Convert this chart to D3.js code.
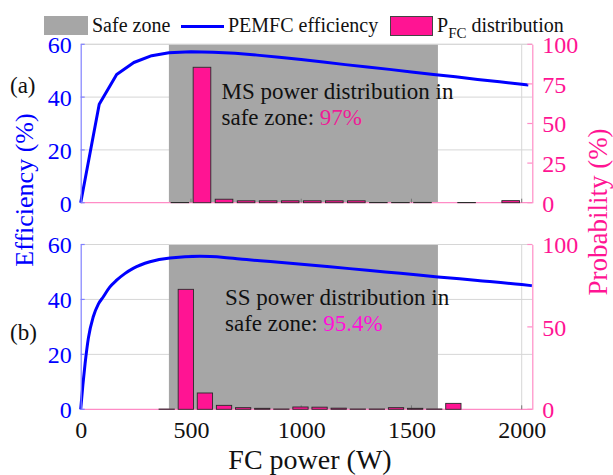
<!DOCTYPE html>
<html>
<head>
<meta charset="utf-8">
<script src="https://cdn.jsdelivr.net/npm/d3@7"></script>
<style>
  html, body { margin: 0; padding: 0; background: #fff; }
  svg text { font-family: "Liberation Serif", "Times New Roman", "DejaVu Serif", serif; }
</style>
</head>
<body>
<svg id="chart" width="613" height="475"></svg>
<script>
// ---- data -------------------------------------------------------------
// PEMFC efficiency curve (MS strategy, coarse samples) : power (W) -> efficiency (%)
const powerA = [0, 84, 163, 241, 322, 400, 500, 600, 700, 800, 900, 1000, 1100, 1200,
                1300, 1400, 1500, 1600, 1700, 1800, 1900, 2000, 2030];
const effA   = [0, 37.3, 48.6, 53.1, 55.7, 56.8, 57.2, 57.0, 56.6, 55.9, 55.1, 54.2, 53.3, 52.3,
                51.4, 50.5, 49.5, 48.6, 47.7, 46.7, 45.8, 44.9, 44.6];

// PEMFC efficiency curve (SS strategy, smooth)
const powerB = [0, 10, 20, 35, 57, 80, 102, 130, 163, 200, 238, 314, 405, 541, 650, 752,
                860, 963, 1130, 1300, 1450, 1620, 1800, 2000, 2046];
const effB   = [0, 9, 16.7, 26, 33.7, 38.3, 40.9, 44.3, 47.0, 49.4, 51.3, 53.7, 55.1, 55.7, 55.3, 54.5,
                53.8, 53.1, 51.9, 50.6, 49.5, 48.2, 46.9, 45.4, 45.0];

// FC power histograms: bin centres (W) and probability (%)
const binsA = [50, 150, 250, 350, 450, 550, 650, 750, 850, 950,
               1050, 1150, 1250, 1350, 1450, 1550, 1650, 1750, 1850, 1950];
const probA = [0, 0, 0, 0, 0.15, 85.5, 2.2, 1.2, 1.2, 1.2,
               1.2, 1.2, 1.2, 0.1, 0.1, 0.2, 0, 0.1, 0, 1.3];
const binWidthA = 100;

const binsB = [43.3, 130, 216.7, 303.3, 390, 476.7, 563.3, 650, 736.7, 823.3,
               910, 996.7, 1083.3, 1170, 1256.7, 1343.3, 1430, 1516.7, 1603.3, 1690];
const probB = [0, 0, 0, 0, 0.15, 72.8, 9.9, 2.4, 1.0, 0.6,
               0.2, 1.4, 1.3, 0.7, 0.2, 0.2, 1.0, 0.6, 0.2, 3.6];
const binWidthB = 86.7;

const safeZone = [400, 1620];
const xTicks = [0, 500, 1000, 1500, 2000];
const effTicks = [0, 20, 40, 60];
const probTicksA = [0, 25, 50, 75, 100];
const probTicksB = [0, 50, 100];
const shares = ["97%", "95.4%"];

// ---- styling ----------------------------------------------------------
const FONT = '"Liberation Serif", "Times New Roman", "DejaVu Serif", serif';
const BLUE = "#0000ff", PINK = "#ff1493", GRAY = "#a6a6a6", GRID = "#d6d6d6";
const svg = d3.select("#chart");

const x = d3.scaleLinear().domain([0, 2048]).range([80.7, 532.3]);
const x0 = x.range()[0], x1 = x.range()[1];

const panels = [
  { top: 44.3, bottom: 202.7, power: powerA, eff: effA, bins: binsA, prob: probA, bw: binWidthA,
    probTicks: probTicksA, curve: d3.curveLinear, tag: "(a)", tagY: 93,
    lines: ["MS power distribution in", "safe zone:"], textX: 221.5, textY: 98.5, share: shares[0], shareColor: "#ee1c96" },
  { top: 244.5, bottom: 409.3, power: powerB, eff: effB, bins: binsB, prob: probB, bw: binWidthB,
    probTicks: probTicksB, curve: d3.curveMonotoneX, tag: "(b)", tagY: 340,
    lines: ["SS power distribution in", "safe zone:"], textX: 225, textY: 305, share: shares[1], shareColor: "#ff10d8" }
];

panels.forEach(p => {
  const yE = d3.scaleLinear().domain([0, 60]).range([p.bottom, p.top]);
  const yP = d3.scaleLinear().domain([0, 100]).range([p.bottom, p.top]);
  const g = svg.append("g");

  // grid
  g.selectAll(".hg").data(effTicks.filter(d => d > 0)).join("line")
    .attr("x1", x0).attr("x2", x1).attr("y1", d => yE(d)).attr("y2", d => yE(d))
    .attr("stroke", GRID).attr("stroke-width", 1);
  g.selectAll(".vg").data(xTicks.filter(d => d > 0)).join("line")
    .attr("x1", d => x(d)).attr("x2", d => x(d)).attr("y1", p.top).attr("y2", p.bottom)
    .attr("stroke", GRID).attr("stroke-width", 1);

  // safe zone
  g.append("rect").attr("x", x(safeZone[0])).attr("y", p.top)
    .attr("width", x(safeZone[1]) - x(safeZone[0])).attr("height", p.bottom - p.top)
    .attr("fill", GRAY);

  // bottom baseline (probability axis colour)
  g.append("line").attr("x1", x0).attr("x2", x1).attr("y1", p.bottom).attr("y2", p.bottom)
    .attr("stroke", "#ff8cc6").attr("stroke-width", 1.2);

  // x tick marks
  g.selectAll(".xt").data(xTicks).join("line")
    .attr("x1", d => x(d)).attr("x2", d => x(d)).attr("y1", p.bottom).attr("y2", p.bottom - 4)
    .attr("stroke", "#777").attr("stroke-width", 1);

  // histogram bars
  const inZone = c => c >= safeZone[0] && c <= safeZone[1];
  g.selectAll(".bar").data(p.bins.map((c, i) => ({ c, v: p.prob[i] }))).join("rect")
    .attr("x", d => x(d.c - 0.4 * p.bw))
    .attr("width", d => x(d.c + 0.4 * p.bw) - x(d.c - 0.4 * p.bw))
    .attr("y", d => yP(d.v))
    .attr("height", d => yP(0) - yP(d.v))
    .attr("fill", "#ff1493")
    .attr("stroke", d => d.v > 0 ? "#2b2b2b" : (inZone(d.c) ? GRAY : "#f4f4f4"))
    .attr("stroke-width", d => d.v > 0 ? 0.9 : 1.4);

  // efficiency curve
  const line = d3.line().x(d => x(d[0])).y(d => yE(d[1])).curve(p.curve);
  g.append("path").datum(p.power.map((w, i) => [w, p.eff[i]]))
    .attr("d", line).attr("fill", "none").attr("stroke", BLUE).attr("stroke-width", 3)
    .attr("stroke-linejoin", "round");

  // frame
  g.append("line").attr("x1", x0).attr("x2", x1).attr("y1", p.top).attr("y2", p.top)
    .attr("stroke", GRID).attr("stroke-width", 1);

  // left (efficiency) axis
  const left = d3.axisLeft(yE).tickValues(effTicks).tickSize(0).tickPadding(9);
  const la = g.append("g").attr("transform", `translate(${x0},0)`).call(left).attr("font-family", FONT);
  la.select(".domain").attr("stroke", "#8080ff").attr("stroke-width", 1.2);
  la.selectAll("text").attr("fill", BLUE).attr("font-size", 24).attr("dy", "0.35em");
  g.selectAll(".lt").data(effTicks).join("line")
    .attr("x1", x0).attr("x2", x0 + 4).attr("y1", d => yE(d)).attr("y2", d => yE(d))
    .attr("stroke", "#8080ff").attr("stroke-width", 1.2);

  // right (probability) axis
  const right = d3.axisRight(yP).tickValues(p.probTicks).tickSize(0).tickPadding(10);
  const ra = g.append("g").attr("transform", `translate(${x1},0)`).call(right).attr("font-family", FONT);
  ra.select(".domain").attr("stroke", "#ff8cc6").attr("stroke-width", 1.2);
  ra.selectAll("text").attr("fill", PINK).attr("font-size", 24).attr("dy", "0.35em");
  g.selectAll(".rt").data(p.probTicks).join("line")
    .attr("x1", x1 - 5).attr("x2", x1).attr("y1", d => yP(d)).attr("y2", d => yP(d))
    .attr("stroke", "#ff8cc6").attr("stroke-width", 1.2);

  // panel tag
  svg.append("text").attr("x", 10).attr("y", p.tagY).attr("font-size", 23)
    .attr("font-family", FONT).attr("fill", "#111").text(p.tag);

  // annotation
  const t = svg.append("g").attr("font-size", 23).attr("font-family", FONT).attr("fill", "#111");
  t.append("text").attr("x", p.textX).attr("y", p.textY).text(p.lines[0]);
  const t2 = t.append("text").attr("x", p.textX).attr("y", p.textY + 26);
  t2.append("tspan").text(p.lines[1] + " ");
  t2.append("tspan").attr("fill", p.shareColor).text(p.share);
});

// x axis labels (under the lower panel)
const xa = svg.append("g").attr("transform", `translate(0,${panels[1].bottom})`)
  .call(d3.axisBottom(x).tickValues(xTicks).tickSize(0).tickPadding(12).tickFormat(d3.format("d")))
  .attr("font-family", FONT);
xa.select(".domain").remove();
xa.selectAll("text").attr("fill", "#111").attr("font-size", 24);

svg.append("text").attr("x", 310).attr("y", 469).attr("text-anchor", "middle")
  .attr("font-family", FONT).attr("font-size", 28).attr("fill", "#111").text("FC power (W)");

svg.append("text").attr("transform", "translate(33,190) rotate(-90)").attr("text-anchor", "middle")
  .attr("font-family", FONT).attr("font-size", 26).attr("fill", BLUE).text("Efficiency (%)");
svg.append("text").attr("transform", "translate(607,212) rotate(-90)").attr("text-anchor", "middle")
  .attr("font-family", FONT).attr("font-size", 27).attr("fill", PINK).text("Probability (%)");

// legend
const lg = svg.append("g").attr("font-size", 20).attr("font-family", FONT).attr("fill", "#111");
lg.append("rect").attr("x", 44).attr("y", 16).attr("width", 44).attr("height", 19).attr("fill", GRAY);
lg.append("text").attr("x", 92).attr("y", 32).text("Safe zone");
lg.append("line").attr("x1", 181).attr("x2", 224).attr("y1", 26.5).attr("y2", 26.5)
  .attr("stroke", BLUE).attr("stroke-width", 3);
lg.append("text").attr("x", 228).attr("y", 32).text("PEMFC efficiency");
lg.append("rect").attr("x", 390.5).attr("y", 16.5).attr("width", 42).attr("height", 19)
  .attr("fill", "#ff1493").attr("stroke", "#444").attr("stroke-width", 1);
const lt = lg.append("text").attr("x", 437).attr("y", 32);
lt.append("tspan").text("P");
lt.append("tspan").attr("font-size", 15).attr("dy", 6).text("FC");
lt.append("tspan").attr("dy", -6).text(" distribution");
</script>
</body>
</html>
